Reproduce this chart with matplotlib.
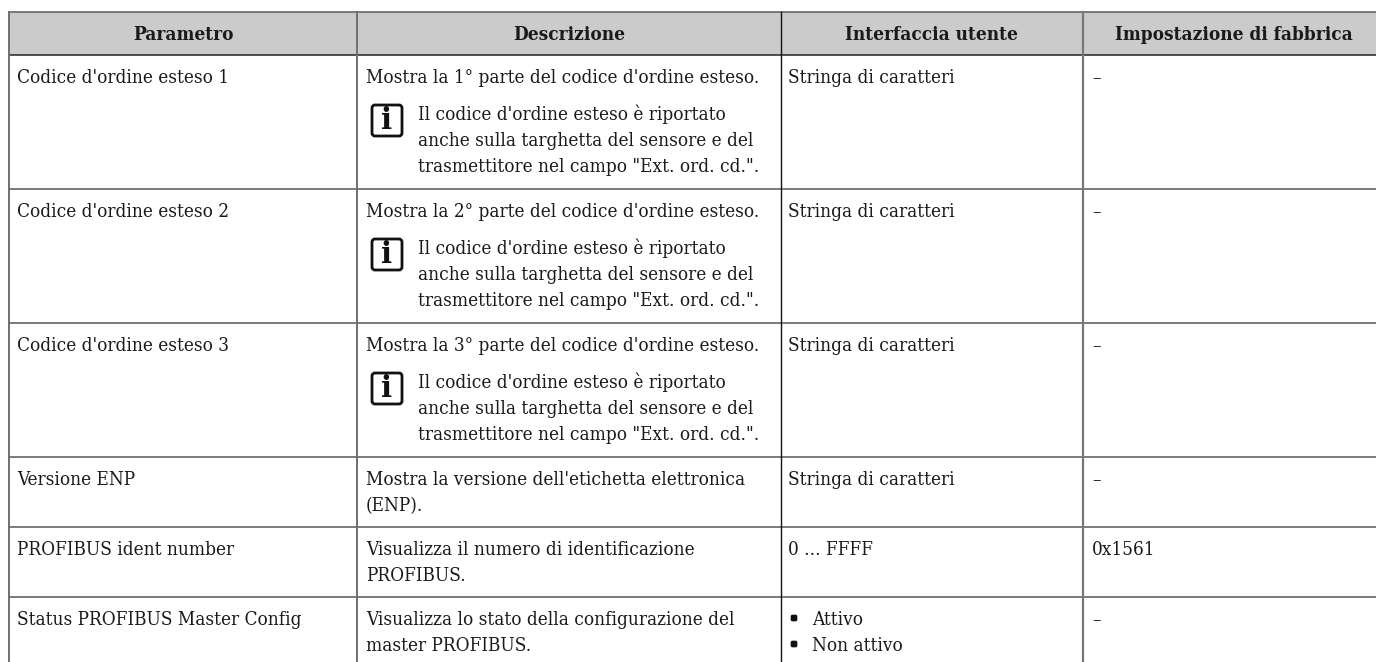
import matplotlib
matplotlib.use("Agg")
import matplotlib.pyplot as plt
from matplotlib.patches import FancyBboxPatch, Rectangle

W, H = 1376, 662

HEADERS = ["Parametro", "Descrizione", "Interfaccia utente", "Impostazione di fabbrica"]
PARAMS = [
    "Codice d'ordine esteso 1",
    "Codice d'ordine esteso 2",
    "Codice d'ordine esteso 3",
    "Versione ENP",
    "PROFIBUS ident number",
    "Status PROFIBUS Master Config",
]
DESCR = [
    ["Mostra la 1° parte del codice d'ordine esteso."],
    ["Mostra la 2° parte del codice d'ordine esteso."],
    ["Mostra la 3° parte del codice d'ordine esteso."],
    ["Mostra la versione dell'etichetta elettronica", "(ENP)."],
    ["Visualizza il numero di identificazione", "PROFIBUS."],
    ["Visualizza lo stato della configurazione del", "master PROFIBUS."],
]
NOTE = [
    "Il codice d'ordine esteso è riportato",
    "anche sulla targhetta del sensore e del",
    'trasmettitore nel campo "Ext. ord. cd.".',
]
HAS_NOTE = [True, True, True, False, False, False]
UI = [
    ["Stringa di caratteri"],
    ["Stringa di caratteri"],
    ["Stringa di caratteri"],
    ["Stringa di caratteri"],
    ["0 ... FFFF"],
    ["Attivo", "Non attivo"],
]
BULLETED = [False, False, False, False, False, True]
FACTORY = ["–", "–", "–", "–", "0x1561", "–"]

# layout, in reference pixels
COL_X = [9, 357, 780.5, 1083]
COL_STYLE = [("#6f6f6f", 1.4), ("#6f6f6f", 1.4), ("#111111", 1.0), ("#777777", 1.6)]
ROW_Y = [55, 189, 323, 457, 527, 597]
TOP = 12
PAD = 8
LINE_H = 26
GRID = "#6f6f6f"
TXT = "#1a1a1a"

fig = plt.figure(figsize=(W / 100, H / 100), dpi=100)
ax = fig.add_axes([0, 0, 1, 1])
ax.set_xlim(0, W)
ax.set_ylim(H, 0)
ax.axis("off")

font = dict(family="DejaVu Serif", stretch="condensed", color=TXT)


def put(x, y, s, size=13.6, weight="normal", ha="left"):
    ax.text(x, y, s, fontsize=size, fontweight=weight, ha=ha, va="baseline", **font)


# header
ax.add_patch(Rectangle((COL_X[0], TOP), W - COL_X[0], ROW_Y[0] - TOP, color="#cbcbcb", lw=0))
col_right = COL_X[1:] + [W + 9]
for i, h in enumerate(HEADERS):
    cx = (COL_X[i] + col_right[i]) / 2
    put(cx, 40, h, size=13.6, weight="bold", ha="center")

# grid lines
ax.plot([COL_X[0], W], [TOP, TOP], color=GRID, lw=1.3)
for i, y in enumerate(ROW_Y):
    ax.plot([COL_X[0], W], [y, y], color="#222222" if i == 0 else GRID, lw=1.1 if i == 0 else 1.3)
for x, (c, lw) in zip(COL_X, COL_STYLE):
    ax.plot([x, x], [TOP, H], color=c, lw=lw)

# body
for r, y0 in enumerate(ROW_Y):
    base = y0 + 28
    put(COL_X[0] + PAD, base, PARAMS[r])
    for k, line in enumerate(DESCR[r]):
        put(COL_X[1] + PAD + 1, base + k * LINE_H, line)
    for k, line in enumerate(UI[r]):
        if BULLETED[r]:
            ax.add_patch(FancyBboxPatch((791, base + k * LINE_H - 10), 6, 6,
                                        boxstyle="round,pad=0,rounding_size=1.5",
                                        fc="#111111", ec="#111111", lw=0.5))
            put(812, base + k * LINE_H, line)
        else:
            put(COL_X[2] + PAD, base + k * LINE_H, line)
    put(COL_X[3] + PAD + 1, base, FACTORY[r])

    if HAS_NOTE[r]:
        for k, line in enumerate(NOTE):
            put(418, y0 + 65 + k * 26, line)
        ax.add_patch(FancyBboxPatch((372, y0 + 50), 30, 31,
                                    boxstyle="round,pad=0,rounding_size=3",
                                    fc="white", ec="#111111", lw=2))
        ax.text(387, y0 + 65.5, "i", fontsize=21, fontweight="bold", family="DejaVu Serif",
                color="#111111", ha="center", va="center")

fig.savefig("out.png", dpi=100)
